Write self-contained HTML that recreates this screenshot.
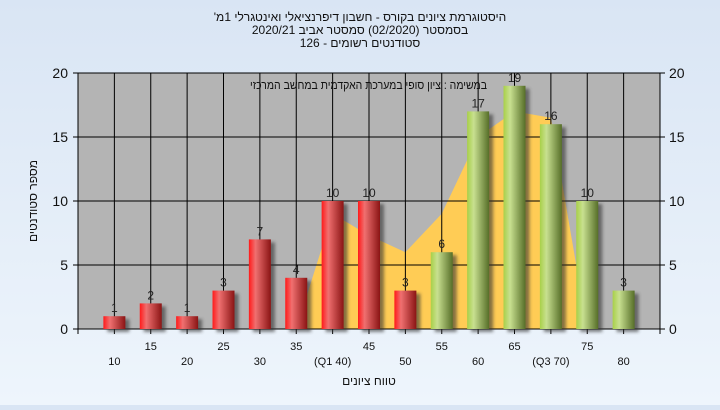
<!DOCTYPE html>
<html><head><meta charset="utf-8">
<style>
html,body{margin:0;padding:0}
body{width:720px;height:405px;overflow:hidden;background:linear-gradient(#d9e5f4,#eef5fc);font-family:"Liberation Sans","DejaVu Sans",sans-serif}
svg text{font-family:"Liberation Sans","DejaVu Sans",sans-serif}
</style></head>
<body>
<svg id="chart" width="720" height="405" xmlns="http://www.w3.org/2000/svg">
<defs>
<linearGradient id="gRed" x1="0" x2="1" y1="0" y2="0">
<stop offset="0" stop-color="#ff1a1a"/><stop offset="0.3" stop-color="#f07070"/><stop offset="1" stop-color="#8a1414"/></linearGradient>
<linearGradient id="gGreen" x1="0" x2="1" y1="0" y2="0">
<stop offset="0" stop-color="#a8d048"/><stop offset="0.3" stop-color="#c8e090"/><stop offset="1" stop-color="#566e28"/></linearGradient>
<filter id="sh" x="-20%" y="-20%" width="160%" height="140%"><feGaussianBlur stdDeviation="1.5"/></filter>
</defs>
<g font-size="12" fill="#111" text-anchor="middle" direction="rtl">
<text x="360" y="21">היסטוגרמת ציונים בקורס - חשבון דיפרנציאלי ואינטגרלי 1מ'</text>
<text x="360" y="34">בסמסטר  (02/2020)  סמסטר אביב 2020/21</text>
<text x="360" y="47">סטודנטים רשומים - 126</text>
</g>
<g id="plot"></g>
</svg>
<script>
const categories=["10","15","20","25","30","35","40","45","50","55","60","65","70","75","80"];
const xLabels=["10","15","20","25","30","35","(Q1 40)","45","50","55","60","65","(Q3 70)","75","80"];
const counts=[1,2,1,3,7,4,10,10,3,6,17,19,16,10,3];
const areaValues=[0,0,0,0,0,0,9,7.3,6,9,15,17,16.5,0,0];
const yTicks=[0,5,10,15,20];
const passFrom=9;

const L=78,R=660,T=73,B=329,yMax=20;
const slot=(R-L)/(categories.length+1);
const xs=i=>L+(i+1)*slot;
const ys=v=>B-(v/yMax)*(B-T);
const NS="http://www.w3.org/2000/svg";
const plot=document.getElementById('plot');
function mk(tag,attrs,parent){const e=document.createElementNS(NS,tag);for(const k in attrs)e.setAttribute(k,attrs[k]);(parent||plot).appendChild(e);return e;}

const bg=mk('rect',{x:L,y:T,width:R-L,height:B-T,fill:'#b4b4b4'});



let pts=[];
areaValues.forEach((v,i)=>pts.push(xs(i)+','+ys(v)));
const area=mk('polygon',{points:xs(0)+','+B+' '+pts.join(' ')+' '+xs(areaValues.length-1)+','+B,fill:'#ffcc55'});



yTicks.forEach(t=>{
 const g=mk('line',{x1:L,x2:R,y1:ys(t),y2:ys(t),stroke:'#000','stroke-width':1});
 
 
 const tl=mk('line',{x1:L-5,x2:L,y1:ys(t),y2:ys(t),stroke:'#000'});
 
 
 const tr=mk('line',{x1:R,x2:R+5,y1:ys(t),y2:ys(t),stroke:'#000'});
 
 
 const a=mk('text',{x:L-10,y:ys(t)+5,'font-size':14,'text-anchor':'end',fill:'#111'});a.textContent=t;
 
 
 const b=mk('text',{x:R+9,y:ys(t)+5,'font-size':14,fill:'#111'});b.textContent=t;
 
 
});
categories.forEach((c,i)=>{
 const g=mk('line',{x1:xs(i),x2:xs(i),y1:T,y2:B+5,stroke:'#000','stroke-width':1});
 
 
 const t=mk('text',{x:xs(i),y:i%2?350:365,'font-size':11,'text-anchor':'middle',fill:'#111'});t.textContent=xLabels[i];
 
 
});
[L,R].forEach(x=>{const a=mk('line',{x1:x,x2:x,y1:T,y2:B+5,stroke:'#000'});
 
 });
const xa=mk('line',{x1:L,x2:R,y1:B,y2:B,stroke:'#000'});



const bw=22;
counts.forEach((v,i)=>{
 const x=xs(i)-bw/2;
 const s=mk('rect',{x:x+4,y:ys(v)+3,width:bw,height:B-ys(v),fill:'#333',opacity:0.6,filter:'url(#sh)'});
 
 
 const r=mk('rect',{x:x,y:ys(v),width:bw,height:B-ys(v),fill:i>=passFrom?'url(#gGreen)':'url(#gRed)'});
 
 
 const t=mk('text',{x:xs(i),y:ys(v)-4,'font-size':12,'text-anchor':'middle',fill:'#222'});t.textContent=v;
 
 
});

const n=mk('text',{x:487,y:89,'font-size':12,'text-anchor':'start',direction:'rtl',fill:'#111',textLength:237,lengthAdjust:'spacingAndGlyphs'});
n.textContent='במשימה : ציון סופי במערכת האקדמית במחשב המרכזי';


const xt=mk('text',{x:369,y:385,'font-size':12,'text-anchor':'middle',direction:'rtl',fill:'#111'});
xt.textContent='טווח ציונים';


const yt=mk('text',{x:0,y:0,'font-size':12,'text-anchor':'middle',direction:'rtl',fill:'#111',transform:'translate(37,201) rotate(-90)'});
yt.textContent='מספר סטודנטים';


</script>
</body></html>
